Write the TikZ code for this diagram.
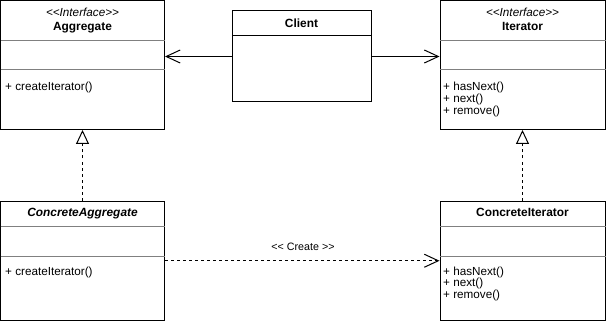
\documentclass[tikz,border=0pt]{standalone}
\usepackage{fontspec}
\setmainfont{Liberation Sans}
\usetikzlibrary{arrows.meta}
\definecolor{divgray}{RGB}{128,128,128}
\newcommand{\stopen}{<\kern0pt<}
\newcommand{\stclose}{>\kern0pt>}
\begin{document}
\begin{tikzpicture}[x=1pt,y=-1pt,
  box/.style={draw=black,line width=1pt,rectangle,inner sep=0pt,fill=white},
  divline/.style={draw=divgray,line width=1pt},
  txt/.style={inner sep=0pt,font=\fontsize{11.7}{12}\selectfont},
  ttl/.style={txt,anchor=base,font=\fontsize{11.9}{12}\selectfont\bfseries},
  stereo/.style={txt,anchor=base,font=\fontsize{11.7}{12}\selectfont\itshape},
  member/.style={txt,anchor=base west},
  lbl/.style={inner sep=0pt,anchor=base,font=\fontsize{10.7}{12}\selectfont},
  assoc/.style={draw=black,line width=1pt,-{Straight Barb[length=14pt,width=13pt,line width=1pt]}},
  realize/.style={draw=black,line width=1pt,dash pattern=on 3pt off 3pt,-{Triangle[open,length=14pt,width=13pt,line width=1pt,fill=white]}},
  create/.style={draw=black,line width=1pt,dash pattern=on 3pt off 3pt,-{Straight Barb[length=14pt,width=13pt,line width=1pt]}}
]
\useasboundingbox (0,0) rectangle (606,321);
% boxes
\node[box,minimum width=164pt,minimum height=129pt] (agg) at (82.5,65) {};
\node[box,minimum width=165pt,minimum height=129pt] (iter) at (522.5,65) {};
\node[box,minimum width=139pt,minimum height=91pt] (client) at (301.5,56.5) {};
\node[box,minimum width=164pt,minimum height=119.5pt] (cagg) at (82.5,260.75) {};
\node[box,minimum width=165pt,minimum height=119.5pt] (citer) at (522.5,260.75) {};
% dividers
\coordinate (a1) at (0.5,40.5); \coordinate (a2) at (0.5,69.5);
\draw[divline] (a1) -- (a1 -| agg.east);
\draw[divline] (a2) -- (a2 -| agg.east);
\coordinate (i1) at (440,40.5); \coordinate (i2) at (440,69.5);
\draw[divline] (i1) -- (i1 -| iter.east);
\draw[divline] (i2) -- (i2 -| iter.east);
\coordinate (c1) at (232,36);
\draw[black,line width=1pt] (c1) -- (c1 -| client.east);
\coordinate (ca1) at (0.5,226); \coordinate (ca2) at (0.5,256);
\draw[divline] (ca1) -- (ca1 -| cagg.east);
\draw[divline] (ca2) -- (ca2 -| cagg.east);
\coordinate (ci1) at (440,226); \coordinate (ci2) at (440,256);
\draw[divline] (ci1) -- (ci1 -| citer.east);
\draw[divline] (ci2) -- (ci2 -| citer.east);
% texts
\node[stereo] (aggst) at (82.5,16.5) {\stopen Interface\stclose};
\node[ttl] (aggt) at (82.5,30.5) {Aggregate};
\node[member] (aggm) at (5,90.5) {+ createIterator()};
\node[stereo] (iterst) at (522.5,16.5) {\stopen Interface\stclose};
\node[ttl] (itert) at (522.5,30.5) {Iterator};
\node[member] (iterm1) at (443,90.5) {+ hasNext()};
\node[member] (iterm2) at (443,102.3) {+ next()};
\node[member] (iterm3) at (443,114) {+ remove()};
\node[ttl] (clientt) at (301.5,28) {Client};
\node[ttl,font=\fontsize{11.9}{12}\selectfont\bfseries\itshape] (caggt) at (82.5,216) {ConcreteAggregate};
\node[member] (caggm) at (5,275) {+ createIterator()};
\node[ttl] (citert) at (522.5,216) {ConcreteIterator};
\node[member] (citerm1) at (443,275) {+ hasNext()};
\node[member] (citerm2) at (443,286.8) {+ next()};
\node[member] (citerm3) at (443,298.5) {+ remove()};
% connectors
\draw[assoc] (client.west) -- (client.west -| agg.east);
\draw[assoc] (client.east) -- (client.east -| iter.west);
\draw[realize] (cagg.north) -- (agg.south);
\draw[realize] (citer.north) -- (iter.south);
\draw[create] (cagg.east) -- (citer.west);
\node[lbl] (createlbl) at (303,250.7) {\stopen{} Create \stclose};
\end{tikzpicture}
\end{document}
